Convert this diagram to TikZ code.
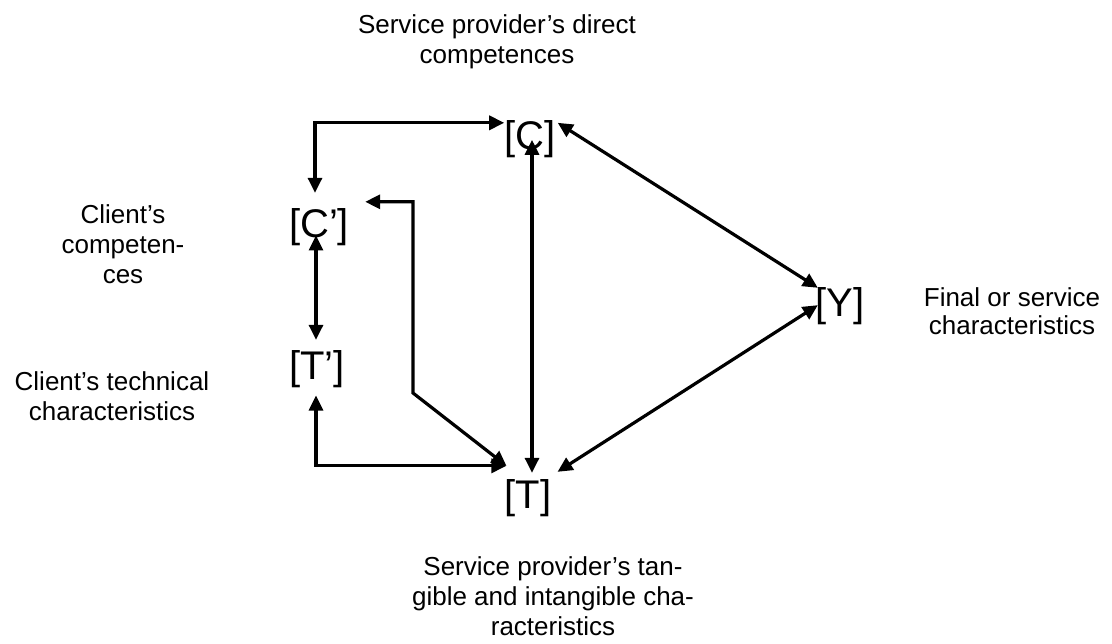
\documentclass[tikz,border=0pt]{standalone}
\usepackage{fontspec}
\setmainfont{Liberation Sans}
\usetikzlibrary{arrows.meta}
\begin{document}
\begin{tikzpicture}[x=1pt,y=-1pt,
  var/.style={inner sep=0pt,anchor=base,font=\fontsize{40}{44}\selectfont},
  lbl/.style={inner sep=0pt,anchor=north,align=center,font=\fontsize{26}{30}\selectfont},
  conn/.style={line width=3.2pt,{Triangle[length=15pt,width=14pt]}-{Triangle[length=15pt,width=14pt]}}]
\useasboundingbox (0,0) rectangle (1112,644);
% variable nodes
\node[var] (C)  at (530,150) {[C]};
\node[var] (Cp) at (319,238) {[C’]};
\node[var] (Tp) at (317,380) {[T’]};
\node[var] (T)  at (528,508) {[T]};
\node[var] (Y)  at (840,317) {[Y]};
% labels
\node[lbl] (lC)  at (497,14)  {Service provider’s direct\\competences};
\node[lbl] (lCp) at (123,204) {Client’s\\competen-\\ces};
\node[lbl] (lTp) at (112,371) {Client’s technical\\characteristics};
\node[lbl,font=\fontsize{26}{28}\selectfont] (lY) at (1012,287) {Final or service\\characteristics};
\node[lbl] (lT)  at (553,556) {Service provider’s tan-\\gible and intangible cha-\\racteristics};
% connectors
\draw[conn] ([xshift=-4pt,yshift=16pt]Cp.north) |- ([yshift=-2pt]C.north west);
\coordinate (bend) at (413,393);
\draw[conn] ([xshift=16pt,yshift=7pt]Cp.north east) -| (bend) -- ([xshift=2pt,yshift=13pt]T.north west);
\draw[conn] ([xshift=-3pt,yshift=11pt]Cp.south) -- ([xshift=-1pt,yshift=11pt]Tp.north);
\draw[conn] ([xshift=-1pt,yshift=-7pt]Tp.south) |- ([xshift=2pt,yshift=13pt]T.north west);
\draw[conn] ([xshift=2pt,yshift=-19pt]C.north) -- ([xshift=4pt,yshift=6pt]T.north);
\draw[conn] ([xshift=2pt,yshift=-2pt]C.north east) -- ([xshift=2.5pt]Y.north west);
\draw[conn] ([xshift=6pt,yshift=7pt]T.north east) -- ([xshift=2.5pt,yshift=1.5pt]Y.west);
\end{tikzpicture}
\end{document}
